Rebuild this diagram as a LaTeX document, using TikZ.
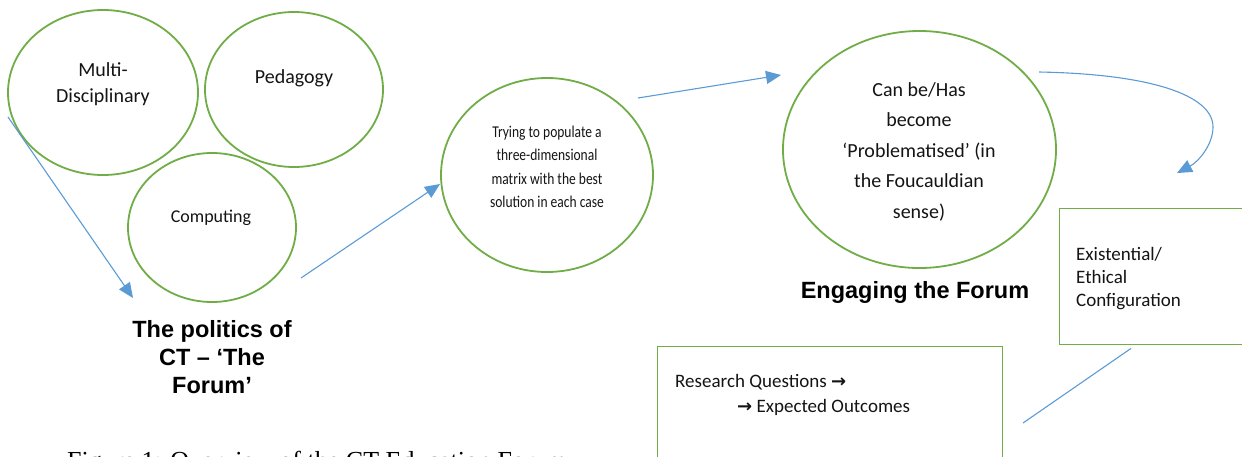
\documentclass[tikz,border=0pt]{standalone}
\usepackage{fontspec}
\setmainfont{Carlito}
\newfontfamily\calnarrow[FakeStretch=0.82]{Carlito}
\newfontfamily\arialb{Liberation Sans}
\newfontfamily\timesf{Liberation Serif}
\newfontfamily\djv{DejaVu Sans}
\usetikzlibrary{shapes.geometric,arrows.meta,calc}
\definecolor{ogreen}{RGB}{112,173,71}
\definecolor{oblue}{RGB}{91,155,213}
\definecolor{otext}{RGB}{20,20,20}
\newcommand{\warr}{{\djv\bfseries\fontsize{18}{25}\selectfont →}}
\tikzset{
  oval/.style={ellipse,draw=ogreen,line width=1.8pt,inner sep=0pt},
  obox/.style={rectangle,draw=ogreen,line width=1.4pt,inner sep=0pt},
  conn/.style={draw=oblue,line width=1.1pt,-{Triangle[length=15pt,width=13pt]}},
  plainconn/.style={draw=oblue,line width=1.1pt},
  txt/.style={inner sep=0pt,text=otext,align=center},
  title/.style={inner sep=0pt,text=black,align=center,font=\arialb\bfseries\fontsize{23.5}{28}\selectfont},
}
\begin{document}
\begin{tikzpicture}[x=1pt,y=-1pt]
\useasboundingbox (0,0) rectangle (1242,456);
\clip (0,0) rectangle (1242,456);
% ellipses
\node[oval,minimum width=190pt,minimum height=165pt] (md) at (103,92.5) {};
\node[oval,minimum width=178pt,minimum height=155pt] (ped) at (294,89.5) {};
\node[oval,minimum width=168pt,minimum height=149pt] (comp) at (212,227.5) {};
\node[oval,minimum width=212pt,minimum height=194pt] (try) at (547,175) {};
\node[oval,minimum width=273pt,minimum height=237pt] (can) at (919.5,149.5) {};
% texts in ellipses
\node[txt,anchor=north,font=\fontsize{20}{26}\selectfont] (mdt) at (103,62) {Multi-\\Disciplinary};
\node[txt,anchor=base,font=\fontsize{20}{24}\selectfont] (pedt) at (294,83) {Pedagogy};
\node[txt,anchor=base,font=\fontsize{18}{22}\selectfont] (compt) at (211,222) {Computing};
\node[txt,anchor=north,font=\calnarrow\fontsize{16.5}{23.3}\selectfont] (tryt) at (547,126) {Trying to populate a\\three-dimensional\\matrix with the best\\solution in each case};
\node[txt,anchor=north,font=\fontsize{20}{30.5}\selectfont] (cant) at (919,82) {Can be/Has\\become\\‘Problematised’ (in\\the Foucauldian\\sense)};
% boxes
\node[obox,anchor=north west,minimum width=200pt,minimum height=136pt] (ec) at (1059,208) {};
\node[txt,anchor=base west,align=left,font=\fontsize{19}{23}\selectfont] (ect) at (1076,306) {Existential/\\Ethical\\Configuration};
\node[obox,anchor=north west,minimum width=345pt,minimum height=140pt] (rq) at (657,346) {};
\node[txt,anchor=base west,align=left,font=\fontsize{19}{25}\selectfont] (rqt) at (675,412) {Research Questions \warr\\\hspace*{62pt}\warr{} Expected Outcomes};
% titles
\node[title,anchor=north] (pol) at (212,320) {The politics of\\CT – ‘The\\Forum’};
\node[title,anchor=base] (eng) at (915,298) {Engaging the Forum};
\node[inner sep=0pt,anchor=base west,font=\timesf\fontsize{26}{30}\selectfont] (cap) at (67,469.5) {Figure 1: Overview of the CT Education Forum};
% connector end points
\coordinate (a1s) at (8,117);
\coordinate (a1e) at (133,298);
\coordinate (a2s) at (301,278);
\coordinate (a2e) at (440,184);
\coordinate (a3s) at (638,98);
\coordinate (a3e) at (781,75);
\coordinate (a4s) at (1039,72);
\coordinate (a4m) at (1213,127);
\coordinate (a4e) at (1177,173);
\coordinate (l5s) at ($(ec.south west)+(72,3)$);
\coordinate (l5e) at (1023,423);
% connectors
\draw[conn] (a1s) -- (a1e);
\draw[conn] (a2s) -- (a2e);
\draw[conn] (a3s) -- (a3e);
\draw[conn] (a4s) .. controls (1150,74) and (1213,95) .. (a4m) .. controls (1213,145) and (1198,162) .. (a4e);
\draw[plainconn] (l5s) -- (l5e);
\end{tikzpicture}
\end{document}
